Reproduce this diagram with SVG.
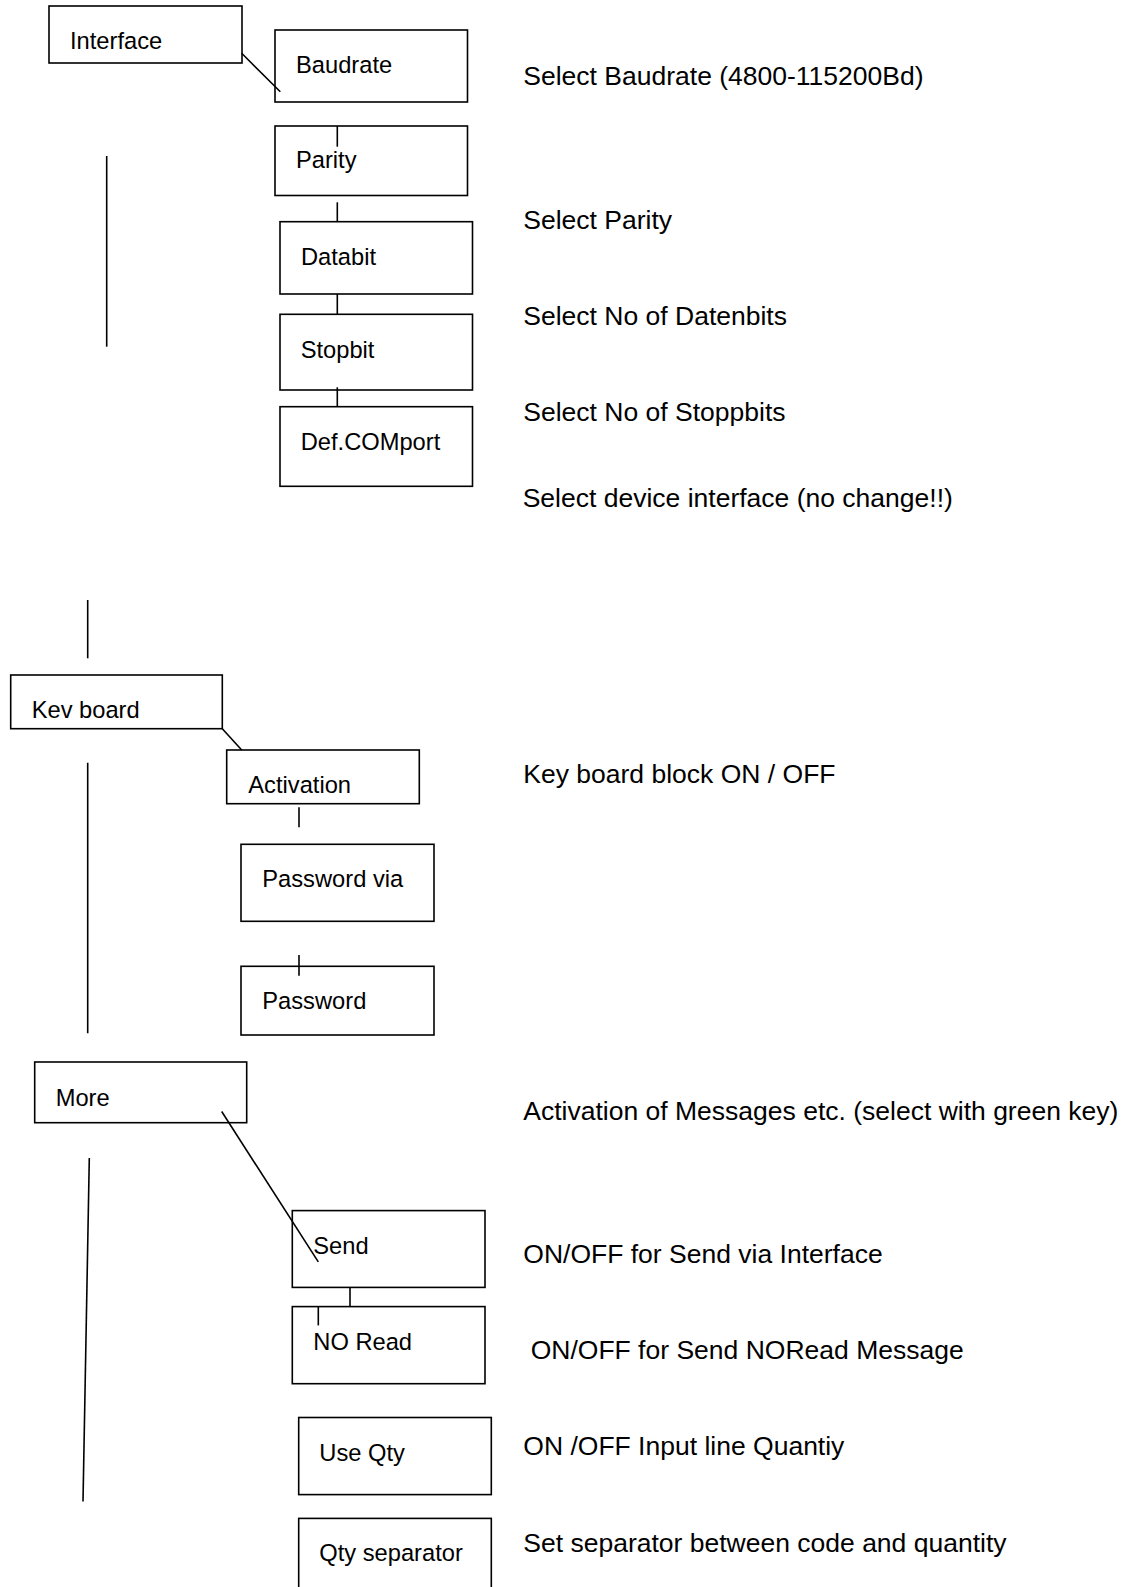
<svg xmlns="http://www.w3.org/2000/svg" width="1127" height="1587" viewBox="0 0 1127 1587">
<style>
.box{fill:#fff;stroke:#000;stroke-width:1.6}
.lbl{font-family:"Liberation Sans",Arial,sans-serif;font-size:23.7px;fill:#000}
.desc{font-family:"Liberation Sans",Arial,sans-serif;font-size:26.5px;fill:#000}
.ln{stroke:#000;stroke-width:1.6;fill:none}
</style>
<rect width="1127" height="1587" fill="#fff"/>
<g id="nodes">
<g id="n-interface"><rect class="box" x="49" y="6" width="193" height="57"/><text class="lbl" x="70" y="49.3">Interface</text></g>
<g id="n-baudrate"><rect class="box" x="275" y="30" width="192.5" height="72"/><text class="lbl" x="296" y="72.7">Baudrate</text></g>
<g id="n-parity"><rect class="box" x="275" y="126" width="192.5" height="69.5"/><text class="lbl" x="296" y="168.3">Parity</text></g>
<g id="n-databit"><rect class="box" x="280" y="221.7" width="192.5" height="72.3"/><text class="lbl" x="301" y="265">Databit</text></g>
<g id="n-stopbit"><rect class="box" x="280" y="314.3" width="192.5" height="75.7"/><text class="lbl" x="300.7" y="357.7">Stopbit</text></g>
<g id="n-defcom"><rect class="box" x="280" y="406.7" width="192.5" height="79.6"/><text class="lbl" x="300.7" y="450">Def.COMport</text></g>
<g id="n-keyboard"><rect class="box" x="10.7" y="675" width="211.6" height="53.7"/><text class="lbl" x="31.7" y="718.3">Kev board</text></g>
<g id="n-activation"><rect class="box" x="226.7" y="750" width="192.6" height="53.7"/><text class="lbl" x="248.3" y="792.7">Activation</text></g>
<g id="n-pwvia"><rect class="box" x="241" y="844.3" width="193" height="77"/><text class="lbl" x="262.3" y="887.3">Password via</text></g>
<g id="n-pw"><rect class="box" x="241" y="966.3" width="193" height="68.7"/><text class="lbl" x="262.3" y="1009">Password</text></g>
<g id="n-more"><rect class="box" x="34.7" y="1062" width="212" height="60.7"/><text class="lbl" x="55.7" y="1106.3">More</text></g>
<g id="n-send"><rect class="box" x="292.3" y="1210.6" width="192.7" height="76.8"/><text class="lbl" x="313.3" y="1253.5">Send</text></g>
<g id="n-noread"><rect class="box" x="292.3" y="1306.6" width="192.7" height="77.1"/><text class="lbl" x="313.3" y="1349.8">NO Read</text></g>
<g id="n-useqty"><rect class="box" x="298.7" y="1417.5" width="192.6" height="77.1"/><text class="lbl" x="319.3" y="1461.1">Use Qty</text></g>
<g id="n-qtysep"><rect class="box" x="298.7" y="1518.4" width="192.6" height="100"/><text class="lbl" x="319.3" y="1561">Qty separator</text></g>
</g>
<g id="connectors">
<line class="ln" x1="241.7" y1="53.3" x2="280.3" y2="91.7"/>
<line class="ln" x1="337.3" y1="126" x2="337.3" y2="146.7"/>
<line class="ln" x1="337.3" y1="202.3" x2="337.3" y2="221.7"/>
<line class="ln" x1="337.3" y1="294" x2="337.3" y2="314.3"/>
<line class="ln" x1="337.3" y1="387.3" x2="337.3" y2="406.7"/>
<line class="ln" x1="106.7" y1="156" x2="106.7" y2="346.7"/>
<line class="ln" x1="87.7" y1="600" x2="87.7" y2="658.3"/>
<line class="ln" x1="222.3" y1="728.7" x2="241.7" y2="750"/>
<line class="ln" x1="299" y1="807.3" x2="299" y2="827.3"/>
<line class="ln" x1="299" y1="955" x2="299" y2="975.7"/>
<line class="ln" x1="87.7" y1="762.7" x2="87.7" y2="1033.3"/>
<line class="ln" x1="221.7" y1="1111.5" x2="318.3" y2="1261.9"/>
<line class="ln" x1="89.3" y1="1158" x2="83" y2="1501.6"/>
<line class="ln" x1="350" y1="1287.4" x2="350" y2="1306.6"/>
<line class="ln" x1="318.3" y1="1306" x2="318.3" y2="1325.4"/>
</g>
<g id="descriptions">
<text class="desc" x="523.3" y="85">Select Baudrate (4800-115200Bd)</text>
<text class="desc" x="523.3" y="229">Select Parity</text>
<text class="desc" x="523.3" y="325">Select No of Datenbits</text>
<text class="desc" x="523.3" y="420.7">Select No of Stoppbits</text>
<text class="desc" x="522.7" y="506.7">Select device interface (no change!!)</text>
<text class="desc" x="523.3" y="783.3">Key board block ON / OFF</text>
<text class="desc" x="523.3" y="1120">Activation of Messages etc. (select with green key)</text>
<text class="desc" x="523.3" y="1263.3">ON/OFF for Send via Interface</text>
<text class="desc" x="523.3" y="1359.3" xml:space="preserve"> ON/OFF for Send NORead Message</text>
<text class="desc" x="523.3" y="1455">ON /OFF Input line Quantiy</text>
<text class="desc" x="523.3" y="1551.7">Set separator between code and quantity</text>
</g>
</svg>
